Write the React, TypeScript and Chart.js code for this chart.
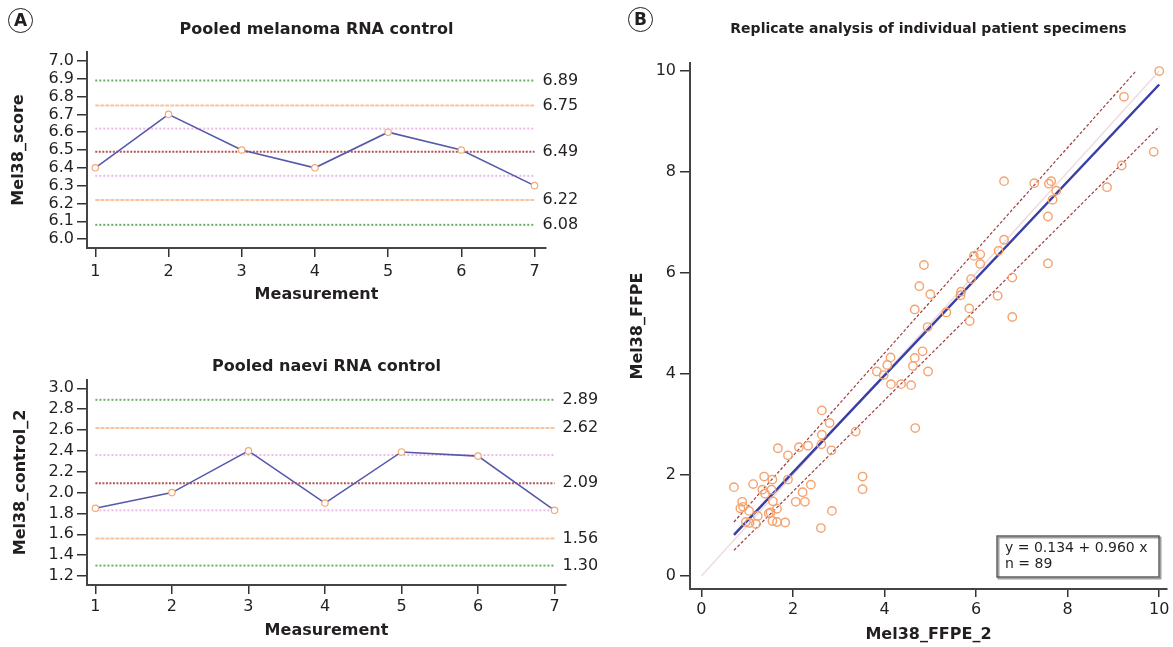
import React, { useEffect, useRef } from "react";
import { Chart, registerables } from "chart.js";

Chart.register(...registerables);

const FONT = "'DejaVu Sans', 'Liberation Sans', sans-serif";
const INK = "#231f20";

// ---------- Panel A (top): pooled melanoma RNA control ----------
const measurements = [1, 2, 3, 4, 5, 6, 7];
const melanomaScores = [6.4, 6.7, 6.5, 6.4, 6.6, 6.5, 6.3];
const melanomaLimits = [6.89, 6.75, 6.62, 6.49, 6.355, 6.22, 6.08];
const melanomaLimitLabels = ["6.89", "6.75", "", "6.49", "", "6.22", "6.08"];
const melanomaYTicks = [6.0, 6.1, 6.2, 6.3, 6.4, 6.5, 6.6, 6.7, 6.8, 6.9, 7.0];

// ---------- Panel A (bottom): pooled naevi RNA control ----------
const naeviScores = [1.85, 2.0, 2.4, 1.9, 2.39, 2.35, 1.83];
const naeviLimits = [2.89, 2.62, 2.36, 2.09, 1.83, 1.56, 1.3];
const naeviLimitLabels = ["2.89", "2.62", "", "2.09", "", "1.56", "1.30"];
const naeviYTicks = [1.2, 1.4, 1.6, 1.8, 2.0, 2.2, 2.4, 2.6, 2.8, 3.0];

const limitStyles = [
  { color: "#67b067", dash: [2, 2] },
  { color: "#f8c39e", dash: [4, 1] },
  { color: "#ecb8ea", dash: [2, 2] },
  { color: "#b25454", dash: [2, 1.5] },
  { color: "#ecb8ea", dash: [2, 2] },
  { color: "#f8c39e", dash: [4, 1] },
  { color: "#67b067", dash: [2, 2] },
];

// ---------- Panel B: replicate analysis ----------
const ffpe2 = [
  0.71, 0.89, 0.85, 0.91, 1.04, 0.97, 1.05, 1.19, 1.23, 1.13, 1.37, 1.33, 1.39, 1.53, 1.55,
  1.56, 1.47, 1.51, 1.65, 1.55, 1.65, 1.83, 1.67, 1.89, 1.89, 2.13, 2.33, 2.06, 2.21, 2.26,
  2.39, 2.63, 2.8, 2.63, 2.62, 2.84, 3.37, 3.52, 3.52, 2.85, 2.61, 3.83, 3.98, 4.14, 4.36,
  4.58, 4.06, 4.13, 4.62, 4.66, 4.83, 4.95, 4.67, 4.94, 5.86, 6.79,
  10.0, 9.23, 9.88, 9.18, 8.86, 6.61, 7.27, 7.59, 7.64, 7.75, 7.67, 7.57, 7.57, 6.61, 6.49,
  5.95, 6.09, 6.09, 4.86, 4.76, 5.0, 5.67, 5.66, 5.89, 6.79, 6.47, 5.85, 5.35, 4.66,
];
const ffpe = [
  1.76, 1.47, 1.34, 1.37, 1.29, 1.07, 1.05, 1.03, 1.19, 1.82, 1.97, 1.71, 1.63, 1.71, 1.91,
  1.48, 1.24, 1.26, 1.33, 1.09, 1.07, 1.06, 2.53, 2.39, 1.91, 2.55, 2.58, 1.47, 1.66, 1.47,
  1.81, 3.28, 3.03, 2.8, 2.61, 2.49, 2.86, 1.97, 1.72, 1.29, 0.95, 4.05, 3.98, 3.8, 3.8,
  3.78, 4.18, 4.33, 4.16, 4.32, 4.45, 4.05, 2.93, 4.93, 5.05, 5.13,
  10.0, 9.49, 8.4, 8.13, 7.7, 7.82, 7.78, 7.77, 7.82, 7.63, 7.45, 7.12, 6.19, 6.66, 6.44,
  6.34, 6.37, 6.18, 6.16, 5.74, 5.58, 5.63, 5.56, 5.88, 5.91, 5.55, 5.3, 5.22, 5.28,
];
const fitIntercept = 0.134;
const fitSlope = 0.96;
const fitXRange = [0.71, 10];
const upperBandX = [0.71, 9.48];
const upperBandY = [1.07, 9.99];
const lowerBandX = [0.71, 10];
const lowerBandY = [0.51, 8.9];
const identityRange = [0, 10];
const replicateTicks = [0, 2, 4, 6, 8, 10];
const fitLegendLines = ["y = 0.134 + 0.960 x", "n = 89"];

type ControlSpec = {
  title: string;
  yTitle: string;
  scores: number[];
  limits: number[];
  limitLabels: string[];
  yTicks: number[];
  xMin: number;
  xMax: number;
  yMin: number;
  yMax: number;
  padRight: number;
  yScaleWidth: number;
  xScaleHeight: number;
  titlePadTop: number;
  titlePadBottom: number;
  xTitlePadBottom: number;
  yTitlePadTop: number;
  xTickPad: number;
};

function limitLabelPlugin(limits: number[], labels: string[]) {
  return {
    id: "limitLabels",
    afterDatasetsDraw(chart: any) {
      const { ctx } = chart;
      const x = chart.scales.x;
      const y = chart.scales.y;
      ctx.save();
      ctx.font = `16px ${FONT}`;
      ctx.fillStyle = INK;
      ctx.textBaseline = "middle";
      ctx.textAlign = "left";
      const px = x.getPixelForValue(measurements[measurements.length - 1]) + 8;
      limits.forEach((v, i) => {
        if (labels[i]) ctx.fillText(labels[i], px, y.getPixelForValue(v));
      });
      ctx.restore();
    },
  };
}

function buildControlChart(canvas: HTMLCanvasElement, s: ControlSpec) {
  const last = measurements.length - 1;
  return new Chart(canvas, {
    type: "scatter",
    data: {
      datasets: [
        {
          data: measurements.map((m, i) => ({ x: m, y: s.scores[i] })),
          showLine: true,
          borderColor: "#5659a9",
          borderWidth: 1.6,
          pointRadius: 3.2,
          pointBorderWidth: 1.2,
          pointBorderColor: "#f3a878",
          pointBackgroundColor: "#ffffff",
        },
        ...s.limits.map((v, i) => ({
          data: [
            { x: measurements[0], y: v },
            { x: measurements[last], y: v },
          ],
          showLine: true,
          borderColor: limitStyles[i].color,
          borderDash: limitStyles[i].dash,
          borderWidth: 2,
          pointRadius: 0,
        })),
      ],
    } as any,
    options: {
      animation: false,
      responsive: false,
      maintainAspectRatio: false,
      layout: { padding: { left: 0, right: s.padRight, top: 0, bottom: 0 } },
      plugins: {
        legend: { display: false },
        tooltip: { enabled: false },
        title: {
          display: true,
          text: s.title,
          fullSize: false,
          color: INK,
          font: { family: FONT, size: 16, weight: "bold" },
          padding: { top: s.titlePadTop, bottom: s.titlePadBottom },
        },
      },
      scales: {
        x: {
          type: "linear",
          min: s.xMin,
          max: s.xMax,
          afterFit: (sc: any) => {
            sc.height = s.xScaleHeight;
          },
          afterBuildTicks: (sc: any) => {
            sc.ticks = measurements.map((v) => ({ value: v }));
          },
          grid: { drawOnChartArea: false, drawTicks: true, tickLength: 9, color: "#333", lineWidth: 1.5 },
          border: { display: true, color: "#444", width: 2 },
          ticks: {
            autoSkip: false,
            maxRotation: 0,
            padding: s.xTickPad,
            color: INK,
            font: { family: FONT, size: 16 },
            callback: (v: any) => String(v),
          },
          title: {
            display: true,
            text: "Measurement",
            color: INK,
            font: { family: FONT, size: 16, weight: "bold" },
            padding: { top: 0, bottom: s.xTitlePadBottom },
          },
        },
        y: {
          type: "linear",
          min: s.yMin,
          max: s.yMax,
          afterFit: (sc: any) => {
            sc.width = s.yScaleWidth;
          },
          afterBuildTicks: (sc: any) => {
            sc.ticks = s.yTicks.map((v) => ({ value: v }));
          },
          grid: { drawOnChartArea: false, drawTicks: true, tickLength: 10, color: "#333", lineWidth: 1.5 },
          border: { display: true, color: "#444", width: 2 },
          ticks: {
            autoSkip: false,
            padding: 3,
            color: INK,
            font: { family: FONT, size: 16 },
            callback: (v: any) => Number(v).toFixed(1),
          },
          title: {
            display: true,
            text: s.yTitle,
            color: INK,
            font: { family: FONT, size: 16, weight: "bold" },
            padding: { top: s.yTitlePadTop, bottom: 0 },
          },
        },
      },
    } as any,
    plugins: [limitLabelPlugin(s.limits, s.limitLabels)],
  });
}

const fitLegendPlugin = {
  id: "fitLegend",
  afterDraw(chart: any) {
    const { ctx, chartArea } = chart;
    const w = 162;
    const h = 41;
    const right = chartArea.right - 8;
    const bottom = chartArea.bottom - 12;
    const left = right - w;
    const top = bottom - h;
    ctx.save();
    ctx.fillStyle = "#ffffff";
    ctx.fillRect(left, top, w, h);
    ctx.strokeStyle = "#a0a0a0";
    ctx.lineWidth = 2;
    ctx.strokeRect(left + 1.5, top + 1.5, w, h);
    ctx.strokeStyle = "#555";
    ctx.lineWidth = 1.4;
    ctx.strokeRect(left, top, w, h);
    ctx.font = `14px ${FONT}`;
    ctx.fillStyle = INK;
    ctx.textBaseline = "middle";
    ctx.textAlign = "left";
    fitLegendLines.forEach((t, i) => ctx.fillText(t, left + 8, top + 12 + i * 16.5));
    ctx.restore();
  },
};

function buildReplicateChart(canvas: HTMLCanvasElement) {
  const fitLine = fitXRange.map((x) => ({ x, y: fitIntercept + fitSlope * x }));
  return new Chart(canvas, {
    type: "scatter",
    data: {
      datasets: [
        {
          data: ffpe2.map((x, i) => ({ x, y: ffpe[i] })),
          pointRadius: 4.2,
          pointBorderWidth: 1.4,
          pointBorderColor: "#f5a26e",
          pointBackgroundColor: "rgba(255,255,255,0)",
          showLine: false,
        },
        {
          data: fitLine,
          showLine: true,
          borderColor: "#3a3fa5",
          borderWidth: 2.5,
          pointRadius: 0,
        },
        {
          data: upperBandX.map((x, i) => ({ x, y: upperBandY[i] })),
          showLine: true,
          borderColor: "#a03c3c",
          borderDash: [3, 2],
          borderWidth: 1.2,
          pointRadius: 0,
        },
        {
          data: lowerBandX.map((x, i) => ({ x, y: lowerBandY[i] })),
          showLine: true,
          borderColor: "#a03c3c",
          borderDash: [3, 2],
          borderWidth: 1.2,
          pointRadius: 0,
        },
        {
          data: identityRange.map((v) => ({ x: v, y: v })),
          showLine: true,
          borderColor: "#efdcdf",
          borderWidth: 1.5,
          pointRadius: 0,
        },
      ],
    } as any,
    options: {
      animation: false,
      responsive: false,
      maintainAspectRatio: false,
      layout: { padding: { left: 0, right: 4, top: 0, bottom: 0 } },
      plugins: {
        legend: { display: false },
        tooltip: { enabled: false },
        title: {
          display: true,
          text: "Replicate analysis of individual patient specimens",
          fullSize: false,
          color: INK,
          font: { family: FONT, size: 14, weight: "bold" },
          padding: { top: 20.9, bottom: 25.3 },
        },
      },
      scales: {
        x: {
          type: "linear",
          min: -0.25,
          max: 10.17,
          afterFit: (sc: any) => {
            sc.height = 58;
          },
          afterBuildTicks: (sc: any) => {
            sc.ticks = replicateTicks.map((v) => ({ value: v }));
          },
          grid: { drawOnChartArea: false, drawTicks: true, tickLength: 8, color: "#333", lineWidth: 1.5 },
          border: { display: true, color: "#444", width: 2 },
          ticks: {
            autoSkip: false,
            maxRotation: 0,
            padding: 3.5,
            color: INK,
            font: { family: FONT, size: 16 },
            callback: (v: any) => String(v),
          },
          title: {
            display: true,
            text: "Mel38_FFPE_2",
            color: INK,
            font: { family: FONT, size: 16, weight: "bold" },
            padding: { top: 0, bottom: 2.4 },
          },
        },
        y: {
          type: "linear",
          min: -0.257,
          max: 10.16,
          afterFit: (sc: any) => {
            sc.width = 90;
          },
          afterBuildTicks: (sc: any) => {
            sc.ticks = replicateTicks.map((v) => ({ value: v }));
          },
          grid: { drawOnChartArea: false, drawTicks: true, tickLength: 10, color: "#333", lineWidth: 1.5 },
          border: { display: true, color: "#444", width: 2 },
          ticks: {
            autoSkip: false,
            padding: 4,
            color: INK,
            font: { family: FONT, size: 16 },
            callback: (v: any) => String(v),
          },
          title: {
            display: true,
            text: "Mel38_FFPE",
            color: INK,
            font: { family: FONT, size: 16, weight: "bold" },
            padding: { top: 28.4, bottom: 0 },
          },
        },
      },
    } as any,
    plugins: [fitLegendPlugin],
  });
}

function ChartCanvas(props: {
  left: number;
  top: number;
  width: number;
  height: number;
  build: (c: HTMLCanvasElement) => Chart;
}) {
  const ref = useRef<HTMLCanvasElement>(null);
  useEffect(() => {
    const chart = props.build(ref.current as HTMLCanvasElement);
    return () => chart.destroy();
  }, []);
  return (
    <canvas
      ref={ref}
      width={props.width}
      height={props.height}
      style={{
        position: "absolute",
        left: props.left,
        top: props.top,
        width: props.width,
        height: props.height,
      }}
    />
  );
}

function PanelLetter(props: { letter: string; cx: number; cy: number }) {
  const d = 25;
  return (
    <div
      style={{
        position: "absolute",
        left: props.cx - d / 2,
        top: props.cy - d / 2,
        width: d,
        height: d,
        boxSizing: "border-box",
        border: `1.5px solid ${INK}`,
        borderRadius: "50%",
        display: "flex",
        alignItems: "center",
        justifyContent: "center",
        fontFamily: FONT,
        fontWeight: "bold",
        fontSize: 17,
        color: INK,
        lineHeight: 1,
      }}
    >
      {props.letter}
    </div>
  );
}

export default function App() {
  return (
    <div
      style={{
        position: "fixed",
        left: 0,
        top: 0,
        width: 1173,
        height: 647,
        background: "#ffffff",
        overflow: "hidden",
      }}
    >
      <ChartCanvas
        left={0}
        top={0}
        width={600}
        height={320}
        build={(c) =>
          buildControlChart(c, {
            title: "Pooled melanoma RNA control",
            yTitle: "Mel38_score",
            scores: melanomaScores,
            limits: melanomaLimits,
            limitLabels: melanomaLimitLabels,
            yTicks: melanomaYTicks,
            xMin: 0.887,
            xMax: 7.157,
            yMin: 5.95,
            yMax: 7.05,
            padRight: 54,
            yScaleWidth: 87,
            xScaleHeight: 72,
            titlePadTop: 20.4,
            titlePadBottom: 12.4,
            xTitlePadBottom: 15.4,
            yTitlePadTop: 9.4,
            xTickPad: 5,
          })
        }
      />
      <ChartCanvas
        left={0}
        top={320}
        width={620}
        height={327}
        build={(c) =>
          buildControlChart(c, {
            title: "Pooled naevi RNA control",
            yTitle: "Mel38_control_2",
            scores: naeviScores,
            limits: naeviLimits,
            limitLabels: naeviLimitLabels,
            yTicks: naeviYTicks,
            xMin: 0.89,
            xMax: 7.15,
            yMin: 1.114,
            yMax: 3.08,
            padRight: 54,
            yScaleWidth: 87,
            xScaleHeight: 62,
            titlePadTop: 37.1,
            titlePadBottom: 3.7,
            xTitlePadBottom: 6.7,
            yTitlePadTop: 11.4,
            xTickPad: 3,
          })
        }
      />
      <ChartCanvas left={600} top={0} width={573} height={647} build={buildReplicateChart} />
      <PanelLetter letter="A" cx={20.7} cy={20.8} />
      <PanelLetter letter="B" cx={640.4} cy={19.2} />
    </div>
  );
}
